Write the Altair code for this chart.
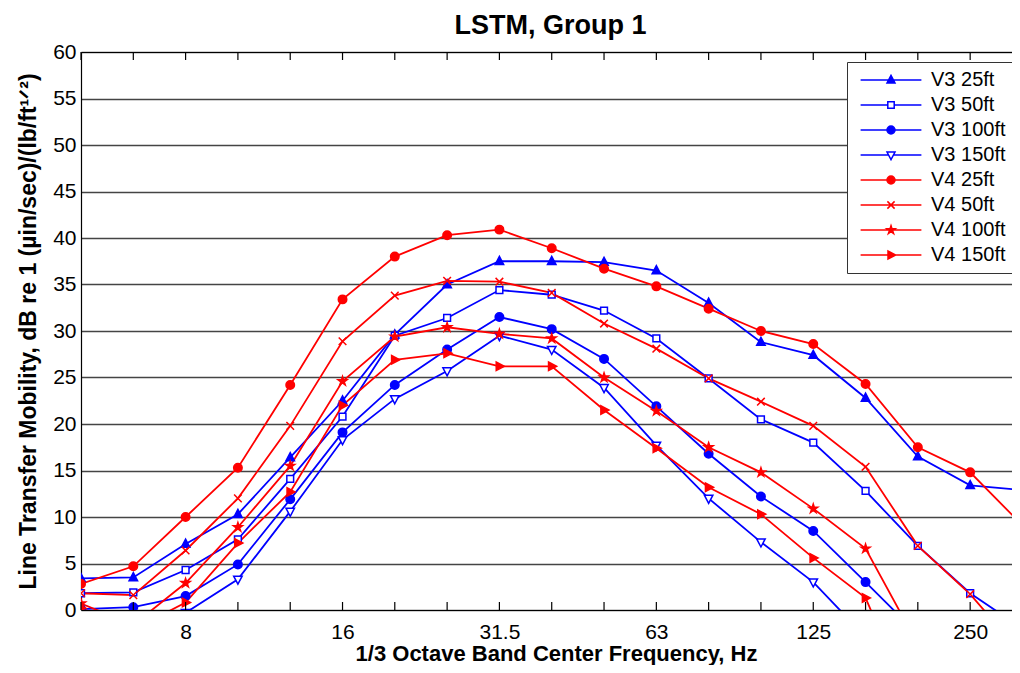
import altair as alt
import pandas as pd

# ---------------- data ----------------
freqs = [5.012, 6.31, 7.943, 10.0, 12.59, 15.85, 19.95, 25.12, 31.62, 39.81,
         50.12, 63.1, 79.43, 100.0, 125.9, 158.5, 199.5, 251.2, 316.2]

series_names = ["V3 25ft", "V3 50ft", "V3 100ft", "V3 150ft",
                "V4 25ft", "V4 50ft", "V4 100ft", "V4 150ft"]

v3_25 = [3.4, 3.5, 7.1, 10.3, 16.4, 22.5, 29.6, 35.0, 37.5, 37.5, 37.4, 36.5, 33.0, 28.8, 27.4, 22.8, 16.5, 13.4, 12.9]
v3_50 = [1.8, 1.9, 4.3, 7.6, 14.1, 20.8, 29.5, 31.4, 34.4, 33.9, 32.2, 29.2, 24.9, 20.5, 18.0, 12.8, 6.9, 1.8, -2.0]
v3_100 = [0.1, 0.3, 1.5, 4.9, 11.9, 19.1, 24.2, 28.0, 31.5, 30.2, 27.0, 21.9, 16.8, 12.2, 8.5, 3.0, -2.6, None, None]
v3_150 = [None, None, -0.3, 3.3, 10.6, 18.3, 22.7, 25.7, 29.5, 28.0, 23.9, 17.7, 12.0, 7.3, 3.0, -2.9, None, None, None]
v4_25 = [2.8, 4.7, 10.0, 15.3, 24.2, 33.4, 38.0, 40.3, 40.9, 38.9, 36.7, 34.8, 32.4, 30.0, 28.6, 24.3, 17.5, 14.8, 9.1]
v4_50 = [1.8, 1.6, 6.4, 12.0, 19.8, 28.9, 33.8, 35.4, 35.3, 34.1, 30.8, 28.1, 24.9, 22.4, 19.8, 15.4, 6.9, 1.7, -4.8]
v4_100 = [0.7, -1.6, 2.9, 8.9, 15.5, 24.6, 29.4, 30.4, 29.7, 29.2, 25.0, 21.4, 17.5, 14.8, 10.9, 6.6, -3.7, None, None]
v4_150 = [0.2, -2.1, 0.8, 7.2, 12.7, 22.0, 26.9, 27.6, 26.2, 26.2, 21.5, 17.4, 13.2, 10.3, 5.6, 1.3, -11.7, None, None]
series_values = [v3_25, v3_50, v3_100, v3_150, v4_25, v4_50, v4_100, v4_150]

tick_values = [7.943, 15.85, 31.62, 63.1, 125.9, 251.2]
tick_labels = ["8", "16", "31.5", "63", "125", "250"]
y_ticks = [0, 5, 10, 15, 20, 25, 30, 35, 40, 45, 50, 55, 60]

# ---------------- styles ----------------
BLUE, RED = "#0000ff", "#ff0000"
stroke_colors = [BLUE] * 4 + [RED] * 4
fill_colors = [BLUE, "#ffffff", BLUE, "#ffffff", RED, RED, RED, RED]

TRI_UP = "M0,-1.15L1,0.75L-1,0.75Z"
SQUARE = "M-0.8,-0.8L0.8,-0.8L0.8,0.8L-0.8,0.8Z"
CIRCLE = "M-1,0A1,1,0,1,1,1,0A1,1,0,1,1,-1,0Z"
TRI_DOWN = "M0,1.15L1,-0.75L-1,-0.75Z"
XMARK = "M-0.9,-0.9L0.9,0.9M-0.9,0.9L0.9,-0.9"
STAR = ("M0,-1.1L0.245,-0.338L1.046,-0.34L0.397,0.129L0.647,0.89L0,0.418"
        "L-0.647,0.89L-0.397,0.129L-1.046,-0.34L-0.245,-0.338Z")
TRI_RIGHT = "M1.15,0L-0.75,1L-0.75,-1Z"
marker_paths = [TRI_UP, SQUARE, CIRCLE, TRI_DOWN, CIRCLE, XMARK, STAR, TRI_RIGHT]
gaps = [(0.6, 0.6), (0.8, 0.8), (1, 1), (0.6, 0.6), (1, 1), (0.3, 0.3), (0.4, 0.4), (0.75, 1.15)]
LHALF = 7.6
legend_paths = [f"M{-LHALF},0L{-a},0M{b},0L{LHALF},0" + p for p, (a, b) in zip(marker_paths, gaps)]

FONT = "Liberation Sans"
W, H = 931, 558

rows = []
for name, vals in zip(series_names, series_values):
    for f, v in zip(freqs, vals):
        if v is not None:
            rows.append({"series": name, "lg": name, "freq": f, "value": v})
df = pd.DataFrame(rows)
bands = pd.DataFrame({"freq": freqs})

x_scale = alt.Scale(type="log", domain=[5.012, 302], nice=False)
y_scale = alt.Scale(domain=[0, 60], nice=False)

label_expr = ("[" + ",".join(f"'{t}'" for t in tick_labels) + "][indexof(["
              + ",".join(str(v) for v in tick_values) + "], datum.value)]")

x_axis = alt.Axis(values=tick_values, labelExpr=label_expr, ticks=False, grid=False,
                  domainColor="black", domainWidth=1.2, labelFont=FONT, labelFontSize=21,
                  labelColor="black", labelPadding=28, labelBaseline="alphabetic", labelFlush=False,
                  title="1/3 Octave Band Center Frequency, Hz", titleFont=FONT,
                  titleFontSize=22, titleFontWeight="bold", titleColor="black",
                  titleX=475, titleAlign="center", titleY=50, titleBaseline="alphabetic")
y_axis = alt.Axis(values=y_ticks, ticks=False, grid=True, gridColor="#444444", gridWidth=1.4,
                  domainColor="black", domainWidth=1.2, labelFont=FONT, labelFontSize=21,
                  labelColor="black", labelPadding=5,
                  title="Line Transfer Mobility, dB re 1 (µin/sec)/(lb/ft¹ᐟ²)",
                  titleFont=FONT, titleFontSize=23, titleFontWeight="bold", titleColor="black",
                  titleX=-46, titleBaseline="alphabetic")

base = alt.Chart(df)

lines = base.mark_line(strokeWidth=1.8, clip=True).encode(
    x=alt.X("freq:Q", scale=x_scale, axis=x_axis),
    y=alt.Y("value:Q", scale=y_scale, axis=y_axis),
    detail="series:N",
    stroke=alt.Stroke("series:N", scale=alt.Scale(domain=series_names, range=stroke_colors), legend=None),
)

points = base.mark_point(size=72, strokeWidth=1.5, opacity=1, clip=True).encode(
    x=alt.X("freq:Q", scale=x_scale, axis=None),
    y=alt.Y("value:Q", scale=y_scale, axis=y_axis),
    shape=alt.Shape("series:N", scale=alt.Scale(domain=series_names, range=marker_paths), legend=None),
    stroke=alt.Stroke("series:N", scale=alt.Scale(domain=series_names, range=stroke_colors), legend=None),
    fill=alt.Fill("series:N", scale=alt.Scale(domain=series_names, range=fill_colors), legend=None),
)

leg = alt.Legend(title=None, orient="none", legendX=766, legendY=10, symbolSize=64,
                 symbolStrokeWidth=1.5, labelFont=FONT, labelFontSize=20, labelColor="black",
                 rowPadding=5, padding=8, fillColor="white", strokeColor="#333333",
                 symbolOffset=26, labelOffset=30, labelLimit=300)

legend_layer = base.transform_filter("false").mark_point(size=64, strokeWidth=1.5, opacity=1).encode(
    x=alt.X("freq:Q", scale=x_scale, axis=None),
    y=alt.Y("value:Q", scale=y_scale, axis=y_axis),
    shape=alt.Shape("lg:N", scale=alt.Scale(domain=series_names, range=legend_paths), legend=leg),
    stroke=alt.Stroke("lg:N", scale=alt.Scale(domain=series_names, range=stroke_colors), legend=leg),
    fill=alt.Fill("lg:N", scale=alt.Scale(domain=series_names, range=fill_colors), legend=leg),
)

bottom_ticks = alt.Chart(bands).mark_rule(color="black", strokeWidth=1.2).encode(
    x=alt.X("freq:Q", scale=x_scale, axis=None),
    y=alt.value(H), y2=alt.value(H - 8),
)
top_ticks = alt.Chart(bands).mark_rule(color="black", strokeWidth=1.2).encode(
    x=alt.X("freq:Q", scale=x_scale,
            axis=alt.Axis(orient="top", labels=False, ticks=False, grid=False, title=None,
                          domainColor="black", domainWidth=1.2)),
    y=alt.value(0), y2=alt.value(8),
)

chart = alt.layer(lines, points, bottom_ticks, top_ticks, legend_layer).resolve_scale(
    shape="independent", stroke="independent", fill="independent"
).resolve_axis(x="independent").properties(
    width=W, height=H,
    title=alt.TitleParams("LSTM, Group 1", font=FONT, fontSize=27, fontWeight="bold",
                          color="black", anchor="middle", baseline="alphabetic", offset=-20,
                          dx=4),
    autosize=alt.AutoSizeParams(type="none"),
    padding={"left": 73, "top": 44, "right": 0, "bottom": 55},
).configure_view(stroke=None)

chart.save("out.html", embed_options={"renderer": "svg", "actions": False})
